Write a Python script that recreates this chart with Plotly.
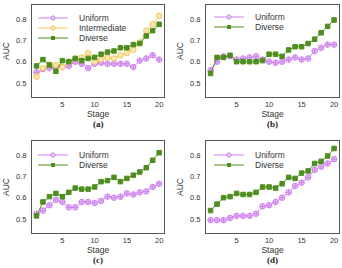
import plotly.graph_objects as go

stages = list(range(1, 21))

a_uniform = [0.55, 0.565, 0.57, 0.58, 0.575, 0.58, 0.60, 0.59, 0.57, 0.59, 0.595, 0.59, 0.59, 0.59, 0.59, 0.575, 0.605, 0.615, 0.63, 0.61]
a_intermediate = [0.53, 0.57, 0.585, 0.585, 0.575, 0.60, 0.615, 0.62, 0.64, 0.60, 0.61, 0.62, 0.615, 0.63, 0.64, 0.655, 0.69, 0.745, 0.775, 0.815]
a_diverse = [0.58, 0.61, 0.585, 0.555, 0.605, 0.60, 0.615, 0.605, 0.615, 0.62, 0.635, 0.645, 0.65, 0.665, 0.665, 0.68, 0.685, 0.72, 0.745, 0.775]

b_uniform = [0.56, 0.60, 0.625, 0.625, 0.61, 0.615, 0.62, 0.625, 0.61, 0.60, 0.595, 0.60, 0.61, 0.62, 0.61, 0.615, 0.65, 0.665, 0.68, 0.68]
b_diverse = [0.545, 0.62, 0.62, 0.63, 0.60, 0.60, 0.60, 0.60, 0.605, 0.635, 0.635, 0.625, 0.655, 0.67, 0.67, 0.685, 0.705, 0.735, 0.765, 0.795]

c_uniform = [0.525, 0.54, 0.565, 0.59, 0.58, 0.555, 0.555, 0.58, 0.58, 0.575, 0.585, 0.605, 0.60, 0.605, 0.62, 0.615, 0.625, 0.63, 0.65, 0.665]
c_diverse = [0.515, 0.58, 0.605, 0.62, 0.605, 0.625, 0.645, 0.64, 0.64, 0.65, 0.675, 0.68, 0.695, 0.675, 0.69, 0.705, 0.72, 0.74, 0.775, 0.81]

d_uniform = [0.495, 0.495, 0.495, 0.505, 0.515, 0.515, 0.515, 0.525, 0.56, 0.565, 0.58, 0.60, 0.625, 0.655, 0.67, 0.695, 0.73, 0.745, 0.76, 0.78]
d_diverse = [0.54, 0.57, 0.60, 0.605, 0.62, 0.615, 0.615, 0.625, 0.65, 0.65, 0.645, 0.665, 0.695, 0.69, 0.715, 0.725, 0.76, 0.77, 0.795, 0.83]

panel_labels = ["(a)", "(b)", "(c)", "(d)"]
y_ticks = [0.5, 0.6, 0.7, 0.8]
x_ticks = [5, 10, 15, 20]

C_UNI = "#CC80EE"
C_INT = "#F2C75C"
C_DIV = "#4E8E1E"

panels = [
    [("Uniform", a_uniform), ("Intermediate", a_intermediate), ("Diverse", a_diverse)],
    [("Uniform", b_uniform), ("Diverse", b_diverse)],
    [("Uniform", c_uniform), ("Diverse", c_diverse)],
    [("Uniform", d_uniform), ("Diverse", d_diverse)],
]

W, H = 342, 268
# pixel boxes (left, top, right, bottom)
boxes = [(32, 5, 164, 97), (206, 5, 339, 97), (32, 141, 164, 233), (206, 141, 339, 233)]
# legend anchor (line start x, first row y) in pixels
legend_pos = [(38, 18), (214, 17), (38, 155), (214, 155)]

style = {
    "Uniform": dict(color=C_UNI, symbol="circle-cross", fill="#EBC8F8", size=5.5),
    "Intermediate": dict(color=C_INT, symbol="circle", fill="#FBE6B0", size=5.5),
    "Diverse": dict(color=C_DIV, symbol="square", fill=C_DIV, size=4.5),
}

fig = go.Figure()
layout = dict(
    width=W, height=H, margin=dict(l=0, r=0, t=0, b=0),
    paper_bgcolor="white", plot_bgcolor="white", showlegend=False,
    font=dict(family="Liberation Sans, Arial, sans-serif", color="#333333", size=8),
)
annotations = []
shapes = []


def px(x):
    return x / W


def py(y):
    return 1 - y / H


for i, (series, box) in enumerate(zip(panels, boxes)):
    n = "" if i == 0 else str(i + 1)
    xa, ya = "x" + n, "y" + n
    for name, vals in series:
        s = style[name]
        fig.add_trace(go.Scatter(
            x=stages, y=vals, name=name, mode="lines+markers",
            xaxis=xa, yaxis=ya,
            line=dict(color=s["color"], width=1),
            marker=dict(symbol=s["symbol"], size=s["size"], color=s["fill"],
                        line=dict(color=s["color"], width=1)),
        ))
    l, t, r, b = box
    layout["xaxis" + n] = dict(
        domain=[l / W, r / W], range=[0.3, 20.75], anchor=ya,
        tickvals=x_ticks, ticks="",
        showline=True, mirror=True, linecolor="#555", linewidth=1,
        showgrid=False, zeroline=False, tickfont=dict(size=7.5),
        title=dict(text="Stage", font=dict(size=8.5), standoff=2),
    )
    layout["yaxis" + n] = dict(
        domain=[1 - b / H, 1 - t / H], range=[0.435, 0.865], anchor=xa,
        tickvals=y_ticks, ticktext=[f"{v:.1f}" for v in y_ticks],
        ticks="outside", ticklen=3, tickcolor="rgba(0,0,0,0)",
        showline=True, mirror=True, linecolor="#555", linewidth=1,
        showgrid=False, zeroline=False, tickfont=dict(size=7.5),
        title=dict(text="AUC", font=dict(size=8.5), standoff=5),
    )
    # manual compact legend (matplotlib style)
    lx, ly = legend_pos[i]
    for k, (name, _) in enumerate(series):
        s = style[name]
        yy = ly + k * 10
        shapes.append(dict(type="line", xref="paper", yref="paper",
                           x0=px(lx), x1=px(lx + 30), y0=py(yy), y1=py(yy),
                           line=dict(color=s["color"], width=1)))
        cx = lx + 15
        if name == "Diverse":
            shapes.append(dict(type="rect", xref="paper", yref="paper",
                               x0=px(cx - 2), x1=px(cx + 2), y0=py(yy - 2), y1=py(yy + 2),
                               fillcolor=s["color"], line=dict(width=0)))
        else:
            shapes.append(dict(type="circle", xref="paper", yref="paper",
                               x0=px(cx - 2.1), x1=px(cx + 2.1), y0=py(yy - 2.1), y1=py(yy + 2.1),
                               fillcolor=s["fill"], line=dict(color=s["color"], width=1)))
        annotations.append(dict(
            text=name, x=px(lx + 39), y=py(yy), xref="paper", yref="paper",
            showarrow=False, xanchor="left", yanchor="middle",
            font=dict(size=8.5, color="#333333"),
        ))
    annotations.append(dict(
        text="<b>" + panel_labels[i] + "</b>", x=(l + r) / 2 / W, y=py(b + 27),
        xref="paper", yref="paper", showarrow=False, xanchor="center", yanchor="middle",
        font=dict(family="Liberation Serif, Times New Roman, serif", size=9, color="#222"),
    ))
layout["annotations"] = annotations
layout["shapes"] = shapes
fig.update_layout(**layout)
fig.write_html("out.html")
